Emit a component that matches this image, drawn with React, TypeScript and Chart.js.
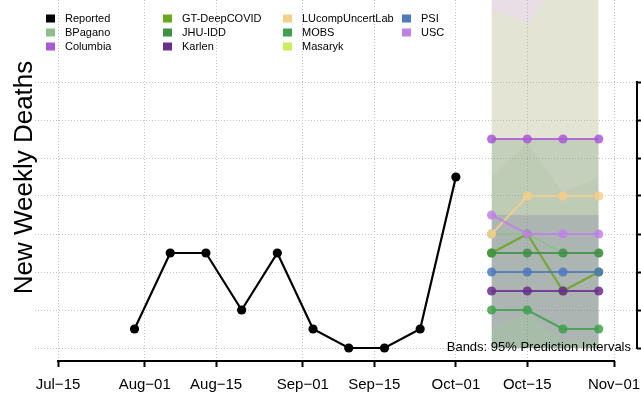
import React, { useEffect, useRef } from "react";
import { Chart, registerables } from "chart.js";

Chart.register(...registerables);

// ---------- data ----------
const ORIGIN = "2022-07-15";
const xTickDates = ["2022-07-15", "2022-08-01", "2022-08-15", "2022-09-01", "2022-09-15", "2022-10-01", "2022-10-15", "2022-11-01"];
const xTickLabels = ["Jul\u221215", "Aug\u221201", "Aug\u221215", "Sep\u221201", "Sep\u221215", "Oct\u221201", "Oct\u221215", "Nov\u221201"];
const yTicks = [0, 2, 4, 6, 8, 10, 12, 14];

const reportedDates = ["2022-07-30", "2022-08-06", "2022-08-13", "2022-08-20", "2022-08-27", "2022-09-03", "2022-09-10", "2022-09-17", "2022-09-24", "2022-10-01"];
const reportedValues = [1, 5, 5, 2, 5, 1, 0, 0, 1, 9];

const forecastDates = ["2022-10-08", "2022-10-15", "2022-10-22", "2022-10-29"];

const models = ["BPagano", "Columbia", "GT-DeepCOVID", "JHU-IDD", "Karlen", "LUcompUncertLab", "MOBS", "Masaryk", "PSI", "USC"];
const modelColors = ["#8fbf8f", "#aa5ad7", "#6aa61e", "#3f9146", "#6a2e8c", "#f5cf8a", "#40a04e", "#c8ee5c", "#4d79bd", "#be82e6"];

const bpaganoMedian = [6, 6, 5, 5];
const columbiaMedian = [11, 11, 11, 11];
const gtMedian = [5, 6, 3, 4];
const jhuMedian = [5, 5, 5, 5];
const karlenMedian = [3, 3, 3, 3];
const lucompMedian = [6, 8, 8, 8];
const mobsMedian = [2, 2, 1, 1];
const masarykMedian = [22, 24, 26, 28];
const psiMedian = [4, 4, 4, 4];
const uscMedian = [7, 6, 6, 6];

const bpaganoLower = [0, 0, 0, 0];
const bpaganoUpper = [9, 10.8, 8.2, 9];
const columbiaLower = [17.9, 17.05, 19.5, 21];
const columbiaUpper = [40, 40, 40, 40];
const gtLower = [0, 0, 0, 0];
const gtUpper = [17.9, 17.05, 19.5, 21];
const jhuLower = [0, 0, 0, 0];
const jhuUpper = [11, 11, 11, 11];
const karlenLower = [0, 0, 0, 0];
const karlenUpper = [7, 7, 7, 7];
const lucompLower = [0, 0, 0, 0];
const lucompUpper = [11, 11, 11, 11];
const mobsLower = [0, 0, 0, 0];
const mobsUpper = [11, 11, 11, 11];
const masarykLower = [11, 11, 11, 11];
const masarykUpper = [40, 40, 40, 40];
const psiLower = [0, 0, 0, 0];
const psiUpper = [7, 7, 7, 7];
const uscLower = [1.1, 1.8, 0.4, 0.4];
const uscUpper = [40, 40, 40, 40];

const medians = [bpaganoMedian, columbiaMedian, gtMedian, jhuMedian, karlenMedian, lucompMedian, mobsMedian, masarykMedian, psiMedian, uscMedian];
const lowers = [bpaganoLower, columbiaLower, gtLower, jhuLower, karlenLower, lucompLower, mobsLower, masarykLower, psiLower, uscLower];
const uppers = [bpaganoUpper, columbiaUpper, gtUpper, jhuUpper, karlenUpper, lucompUpper, mobsUpper, masarykUpper, psiUpper, uscUpper];

const legendLabels = ["Reported", ...models];
const legendColors = ["#000000", ...modelColors];
const bandNote = "Bands: 95% Prediction Intervals";
const yTitle = "New Weekly Deaths";

// ---------- helpers ----------
const dayOf = (s: string) => Math.round((Date.parse(s) - Date.parse(ORIGIN)) / 864e5);
const xTickDays = xTickDates.map(dayOf);
const rgba = (hex: string, a: number) => {
  const n = parseInt(hex.slice(1), 16);
  return `rgba(${(n >> 16) & 255},${(n >> 8) & 255},${n & 255},${a})`;
};
const FONT = "'Liberation Sans', Arial, Helvetica, sans-serif";

const BAND_ALPHA = 0.13;
const LINE_ALPHA = 0.85;

const overlayPlugin = {
  id: "overlay",
  afterDraw(chart: any) {
    const ctx = chart.ctx as CanvasRenderingContext2D;
    const xs = chart.scales.x;
    const ys = chart.scales.y;
    const area = chart.chartArea;
    ctx.save();
    ctx.strokeStyle = "#000";
    ctx.lineWidth = 2;
    ctx.lineCap = "butt";
    // x axis line
    ctx.beginPath();
    ctx.moveTo(xs.getPixelForValue(xTickDays[0]) - 1, area.bottom);
    ctx.lineTo(xs.getPixelForValue(xTickDays[xTickDays.length - 1]) + 1, area.bottom);
    ctx.stroke();
    // y axis line (right)
    ctx.beginPath();
    ctx.moveTo(area.right, ys.getPixelForValue(yTicks[0]) + 1);
    ctx.lineTo(area.right, ys.getPixelForValue(yTicks[yTicks.length - 1]) - 1);
    ctx.stroke();

    // y title
    ctx.save();
    ctx.translate(31.5, 177.5);
    ctx.rotate(-Math.PI / 2);
    ctx.fillStyle = "#000";
    ctx.font = `26px ${FONT}`;
    ctx.textAlign = "center";
    ctx.textBaseline = "alphabetic";
    ctx.fillText(yTitle, 0, 0);
    ctx.restore();

    // legend (column-major, 3 rows)
    const colX = [46, 163, 283, 402];
    const rowY = [18.5, 32.5, 46.5];
    ctx.font = `11px ${FONT}`;
    ctx.textAlign = "left";
    ctx.textBaseline = "middle";
    legendLabels.forEach((lab, i) => {
      const c = Math.floor(i / 3);
      const r = i % 3;
      const x0 = colX[c];
      const y0 = rowY[r];
      ctx.fillStyle = legendColors[i];
      ctx.fillRect(x0, y0 - 4, 9, 8);
      ctx.fillStyle = "#000";
      ctx.fillText(lab, x0 + 19, y0);
    });

    // band note
    ctx.font = `13px ${FONT}`;
    ctx.textAlign = "right";
    ctx.fillStyle = "#000";
    ctx.fillText(bandNote, 631, 347);
    ctx.restore();
  },
};

export default function App() {
  const ref = useRef<HTMLCanvasElement | null>(null);

  useEffect(() => {
    if (!ref.current) return;
    const fx = forecastDates.map(dayOf);
    const datasets: any[] = [];

    // bands
    models.forEach((m, i) => {
      const upIdx = datasets.length;
      datasets.push({
        label: m + " upper",
        data: fx.map((x, k) => ({ x, y: uppers[i][k] })),
        borderWidth: 0,
        pointRadius: 0,
        backgroundColor: rgba(modelColors[i], BAND_ALPHA),
        fill: { target: upIdx + 1 },
        order: 1000 + (models.length - i),
      });
      datasets.push({
        label: m + " lower",
        data: fx.map((x, k) => ({ x, y: lowers[i][k] })),
        borderWidth: 0,
        pointRadius: 0,
        fill: false,
        order: 1000 + (models.length - i),
      });
    });

    // median lines
    models.forEach((m, i) => {
      datasets.push({
        label: m,
        data: fx.map((x, k) => ({ x, y: medians[i][k] })),
        borderColor: rgba(modelColors[i], LINE_ALPHA),
        backgroundColor: rgba(modelColors[i], LINE_ALPHA),
        borderWidth: 2.2,
        pointRadius: 4.6,
        pointBorderWidth: 0,
        fill: false,
        order: 100 + (models.length - i),
      });
    });

    datasets.push({
      label: "Reported",
      data: reportedDates.map((d, k) => ({ x: dayOf(d), y: reportedValues[k] })),
      borderColor: "#000",
      backgroundColor: "#000",
      borderWidth: 2.2,
      pointRadius: 4.6,
      pointBorderWidth: 0,
      fill: false,
      order: 0,
    });

    const pxPerDay = 556 / 109;
    const pxPerUnit = 19;

    const chart = new Chart(ref.current, {
      type: "line",
      data: { datasets },
      plugins: [overlayPlugin],
      options: {
        responsive: false,
        animation: false,
        events: [],
        layout: { autoPadding: false, padding: { left: 35, right: 0, top: 0, bottom: 0 } },
        plugins: {
          legend: { display: false },
          tooltip: { enabled: false },
          filler: { drawTime: "beforeDatasetsDraw" },
        },
        scales: {
          x: {
            type: "linear",
            min: xTickDays[0] - 23 / pxPerDay,
            max: xTickDays[xTickDays.length - 1] + 23 / pxPerDay,
            afterBuildTicks: (s: any) => {
              s.ticks = xTickDays.map((v) => ({ value: v }));
            },
            afterFit: (s: any) => {
              s.height = 37;
              s.paddingLeft = 0;
              s.paddingRight = 0;
            },
            ticks: {
              autoSkip: false,
              maxRotation: 0,
              minRotation: 0,
              padding: 9,
              color: "#000",
              font: { family: FONT, size: 15 },
              callback: (v: any) => {
                const idx = xTickDays.indexOf(Number(v));
                return idx >= 0 ? xTickLabels[idx] : "";
              },
            },
            grid: {
              color: "#c4c4c4",
              lineWidth: 1,
              drawTicks: true,
              tickLength: 6,
              tickColor: "#000",
              tickWidth: 2,
            },
            border: { display: false, dash: [1, 2] },
          },
          y: {
            type: "linear",
            position: "right",
            min: -13 / pxPerUnit,
            max: 348 / pxPerUnit,
            afterBuildTicks: (s: any) => {
              s.ticks = yTicks.map((v) => ({ value: v }));
            },
            afterFit: (s: any) => {
              s.width = 4;
              s.paddingTop = 0;
              s.paddingBottom = 0;
            },
            ticks: { display: false },
            grid: {
              color: "#c4c4c4",
              lineWidth: 1,
              drawTicks: true,
              tickLength: 5,
              tickColor: "#000",
              tickWidth: 2,
            },
            border: { display: false, dash: [1, 2] },
          },
        },
      } as any,
    });
    return () => chart.destroy();
  }, []);

  return (
    <div style={{ position: "absolute", left: 0, top: 0, width: 641, height: 398, background: "#fff" }}>
      <canvas ref={ref} width={641} height={398} style={{ display: "block", width: 641, height: 398 }} />
    </div>
  );
}
